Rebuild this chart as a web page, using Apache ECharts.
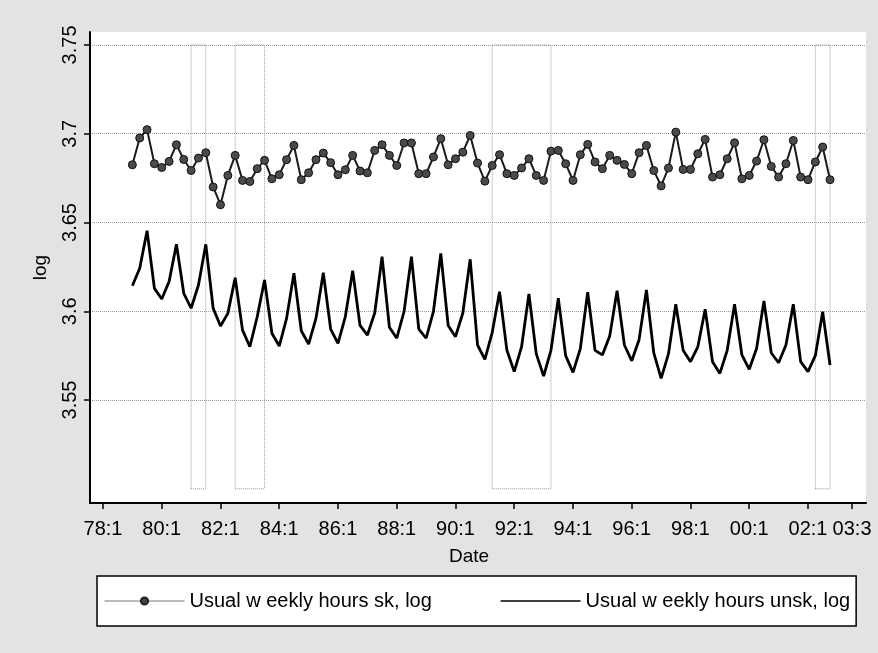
<!DOCTYPE html>
<html>
<head>
<meta charset="utf-8">
<script src="https://cdn.jsdelivr.net/npm/echarts@6/dist/echarts.min.js"></script>
<style>
html,body{margin:0;padding:0;background:#e3e3e3;}
#chart{width:878px;height:653px;}
</style>
</head>
<body>
<div id="chart"></div>
<script>
// Quarter labels (yy:q) of each observation
const quarters = [
 "79:1","79:2","79:3","79:4","80:1","80:2","80:3","80:4","81:1","81:2","81:3","81:4",
 "82:1","82:2","82:3","82:4","83:1","83:2","83:3","83:4","84:1","84:2","84:3","84:4",
 "85:1","85:2","85:3","85:4","86:1","86:2","86:3","86:4","87:1","87:2","87:3","87:4",
 "88:1","88:2","88:3","88:4","89:1","89:2","89:3","89:4","90:1","90:2","90:3","90:4",
 "91:1","91:2","91:3","91:4","92:1","92:2","92:3","92:4","93:1","93:2","93:3","93:4",
 "94:1","94:2","94:3","94:4","95:1","95:2","95:3","95:4","96:1","96:2","96:3","96:4",
 "97:1","97:2","97:3","97:4","98:1","98:2","98:3","98:4","99:1","99:2","99:3","99:4",
 "00:1","00:2","00:3","00:4","01:1","01:2","01:3","01:4","02:1","02:2","02:3","02:4"
];
// Usual weekly hours, skilled (log)
const skHours = [
 3.6825,3.6976,3.7023,3.6831, 3.6810,3.6844,3.6938,3.6855, 3.6793,3.6863,3.6893,3.6700,
 3.6600,3.6765,3.6878,3.6737, 3.6731,3.6803,3.6850,3.6746, 3.6769,3.6854,3.6934,3.6741,
 3.6780,3.6854,3.6891,3.6837, 3.6769,3.6797,3.6878,3.6790, 3.6780,3.6906,3.6938,3.6878,
 3.6821,3.6948,3.6948,3.6775, 3.6775,3.6869,3.6972,3.6825, 3.6859,3.6896,3.6990,3.6835,
 3.6733,3.6821,3.6882,3.6775, 3.6765,3.6807,3.6859,3.6765, 3.6737,3.6902,3.6906,3.6831,
 3.6737,3.6882,3.6940,3.6841, 3.6803,3.6878,3.6850,3.6827, 3.6775,3.6893,3.6934,3.6793,
 3.6706,3.6807,3.7009,3.6799, 3.6799,3.6887,3.6968,3.6756, 3.6769,3.6859,3.6949,3.6746,
 3.6765,3.6846,3.6966,3.6816, 3.6756,3.6831,3.6962,3.6756, 3.6741,3.6841,3.6925,3.6741
];
// Usual weekly hours, unskilled (log)
const unskHours = [
 3.6144,3.6242,3.6454,3.6129, 3.6069,3.6167,3.6377,3.6101, 3.6017,3.6148,3.6377,3.6017,
 3.5917,3.5988,3.6189,3.5894, 3.5800,3.5969,3.6176,3.5876, 3.5804,3.5960,3.6214,3.5890,
 3.5815,3.5960,3.6217,3.5900, 3.5819,3.5970,3.6228,3.5920, 3.5866,3.5990,3.6307,3.5910,
 3.5848,3.6000,3.6307,3.5900, 3.5848,3.6000,3.6326,3.5920, 3.5857,3.5990,3.6293,3.5810,
 3.5729,3.5880,3.6110,3.5780, 3.5660,3.5800,3.6097,3.5760, 3.5635,3.5780,3.6073,3.5750,
 3.5656,3.5790,3.6107,3.5780, 3.5754,3.5860,3.6116,3.5810, 3.5721,3.5840,3.6120,3.5765,
 3.5622,3.5760,3.6040,3.5780, 3.5716,3.5800,3.6011,3.5716, 3.5650,3.5780,3.6040,3.5754,
 3.5673,3.5790,3.6058,3.5765, 3.5710,3.5810,3.6040,3.5716, 3.5660,3.5750,3.5997,3.5697
];
// Shaded periods (start, end quarter)
const bands = [["81:1","81:3"],["82:3","83:3"],["91:2","93:2"],["02:2","02:4"]];
// Axis tick labels
const xTickLabels = ["78:1","80:1","82:1","84:1","86:1","88:1","90:1","92:1","94:1","96:1","98:1","00:1","02:1","03:3"];
const yTickValues = [3.55, 3.6, 3.65, 3.7, 3.75];
const seriesNames = ["Usual w eekly hours sk, log", "Usual w eekly hours unsk, log"];

// parse "yy:q" into quarter index counted from 78:1
function qIndex(lbl){
  const p = lbl.split(":");
  let y = parseInt(p[0],10);
  y = y < 50 ? 2000 + y : 1900 + y;
  return (y - 1978) * 4 + (parseInt(p[1],10) - 1);
}
const labelByIndex = {};
xTickLabels.forEach(l => { labelByIndex[qIndex(l)] = l; });

const skData = quarters.map((q,i) => [qIndex(q), skHours[i]]);
const unskData = quarters.map((q,i) => [qIndex(q), unskHours[i]]);
const bandAreas = bands.map(b => [{xAxis: qIndex(b[0]), yAxis: 3.5}, {xAxis: qIndex(b[1]), yAxis: 3.75}]);

const font = "'Liberation Sans', Arial, Helvetica, sans-serif";
const chart = echarts.init(document.getElementById('chart'));
chart.setOption({
  animation: false,
  backgroundColor: '#e3e3e3',
  textStyle: {fontFamily: font},
  grid: {left: 90, right: 12, top: 32, bottom: 150, show: true, backgroundColor: '#ffffff', borderWidth: 0},
  xAxis: {
    type: 'value', min: -1.77, max: 103.9,
    name: 'Date', nameLocation: 'middle', nameGap: 44,
    nameTextStyle: {fontSize: 19, color: '#000', padding: [0, 18, 0, 0]},
    axisLine: {show: true, onZero: false, lineStyle: {color: '#000', width: 2}},
    axisTick: {show: true, length: 6, lineStyle: {color: '#000', width: 1.5}, customValues: xTickLabels.map(qIndex)},
    axisLabel: {fontSize: 20, color: '#000', margin: 16, customValues: xTickLabels.map(qIndex),
      formatter: v => labelByIndex[Math.round(v)] || ''},
    splitLine: {show: false}
  },
  yAxis: {
    type: 'value', min: 3.492, max: 3.7573,
    name: 'log', nameLocation: 'middle', nameGap: 40, nameRotate: 90,
    nameTextStyle: {fontSize: 19, color: '#000'},
    axisLine: {show: true, onZero: false, lineStyle: {color: '#000', width: 2}},
    axisTick: {show: true, length: 6, lineStyle: {color: '#000', width: 1.5}, customValues: yTickValues},
    axisLabel: {fontSize: 20, color: '#000', rotate: 90, margin: 10, customValues: yTickValues,
      formatter: v => String(Math.round(v*100)/100)},
    splitLine: {show: true, lineStyle: {color: '#9a9a9a', type: 'dotted', width: 1}}
  },
  legend: {
    left: 97, top: 576, orient: 'horizontal',
    backgroundColor: '#fff', borderColor: '#000', borderWidth: 1.5,
    padding: [15, 6, 15, 7], itemGap: 68, itemWidth: 80, itemHeight: 9,
    textStyle: {fontSize: 20, color: '#000', fontFamily: font},
    data: [
      {name: seriesNames[0], lineStyle: {color: '#777', width: 1}, itemStyle: {color: '#444', borderColor: '#222'}},
      {name: seriesNames[1], lineStyle: {color: '#000', width: 1.5}, itemStyle: {opacity: 0}}
    ]
  },
  series: [
    {
      name: seriesNames[0], type: 'line', data: skData,
      symbol: 'circle', symbolSize: 8,
      lineStyle: {color: '#1a1a1a', width: 2},
      itemStyle: {color: '#4a4a4a', borderColor: '#111', borderWidth: 1},
      markArea: {silent: true, itemStyle: {color: 'rgba(0,0,0,0)', borderColor: '#999', borderWidth: 1, borderType: 'dotted'},
        data: bandAreas}
    },
    {
      name: seriesNames[1], type: 'line', data: unskData,
      symbol: 'none', showSymbol: false,
      lineStyle: {color: '#000', width: 2.8},
      itemStyle: {color: '#000'}
    }
  ]
});
</script>
</body>
</html>
